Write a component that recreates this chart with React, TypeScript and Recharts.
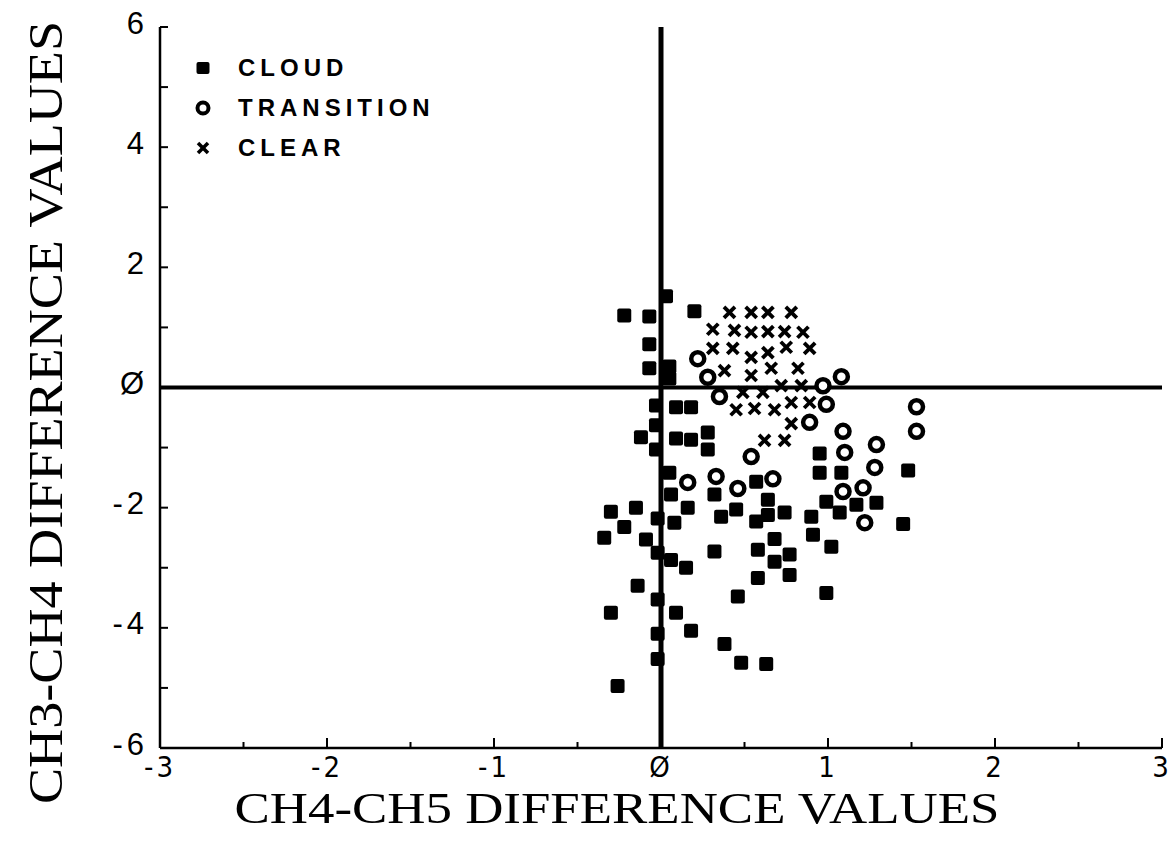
import React from "react"
import {
  ScatterChart,
  Scatter,
  XAxis,
  YAxis,
  ReferenceLine,
  Legend,
  Label,
} from "recharts"

// [CH4-CH5, CH3-CH4] pairs
const cloudPoints: [number, number][] = [
  [0.03, 1.52], [-0.22, 1.2], [-0.07, 1.18], [0.2, 1.27], [-0.07, 0.72],
  [-0.07, 0.32], [0.05, 0.35], [0.05, 0.15], [-0.03, -0.3], [0.09, -0.33],
  [0.18, -0.33], [-0.03, -0.63], [0.28, -0.75], [-0.12, -0.83], [-0.03, -1.03],
  [0.09, -0.85], [0.18, -0.87], [0.28, -1.03], [0.95, -1.1], [0.05, -1.42],
  [0.95, -1.42], [1.08, -1.42], [0.32, -1.78], [0.06, -1.78], [0.57, -1.57],
  [0.64, -1.87], [0.99, -1.9], [1.17, -1.95], [1.29, -1.92], [-0.3, -2.07],
  [-0.15, -2.0], [0.16, -2.0], [0.45, -2.03], [0.36, -2.15], [0.64, -2.12],
  [0.74, -2.08], [1.07, -2.08], [0.9, -2.15], [-0.02, -2.18], [0.08, -2.25],
  [0.57, -2.23], [-0.22, -2.32], [-0.34, -2.5], [-0.09, -2.53], [0.91, -2.45],
  [0.68, -2.52], [1.02, -2.65], [0.32, -2.73], [0.58, -2.7], [0.77, -2.78],
  [-0.02, -2.75], [0.06, -2.87], [0.68, -2.9], [0.15, -3.0], [0.58, -3.17],
  [0.77, -3.12], [-0.14, -3.3], [0.46, -3.48], [0.99, -3.42], [-0.02, -3.53],
  [-0.3, -3.75], [0.09, -3.75], [0.18, -4.05], [-0.02, -4.1], [0.38, -4.27],
  [-0.02, -4.52], [0.48, -4.58], [0.63, -4.6], [-0.26, -4.97], [1.48, -1.38],
  [1.45, -2.27],
]

const transitionPoints: [number, number][] = [
  [0.22, 0.48], [0.28, 0.17], [0.35, -0.15], [1.08, 0.18], [0.99, -0.28],
  [0.97, 0.03], [0.89, -0.58], [1.09, -0.73], [1.29, -0.95], [1.1, -1.08],
  [0.54, -1.15], [1.53, -0.32], [1.53, -0.73], [1.28, -1.33], [0.16, -1.58],
  [0.33, -1.48], [0.46, -1.68], [0.67, -1.52], [1.09, -1.73], [1.21, -1.67],
  [1.22, -2.25],
]

const clearPoints: [number, number][] = [
  [0.41, 1.25], [0.54, 1.25], [0.64, 1.25], [0.78, 1.25],
  [0.31, 0.97], [0.44, 0.95], [0.54, 0.92], [0.64, 0.93], [0.74, 0.93], [0.85, 0.92],
  [0.31, 0.65], [0.43, 0.65], [0.54, 0.5], [0.64, 0.58], [0.75, 0.67], [0.89, 0.65],
  [0.38, 0.28], [0.54, 0.2], [0.66, 0.32], [0.82, 0.32],
  [0.72, 0.03], [0.84, 0.03], [0.49, -0.08], [0.61, -0.08],
  [0.78, -0.25], [0.89, -0.25], [0.45, -0.37], [0.56, -0.35], [0.68, -0.37],
  [0.78, -0.6], [0.62, -0.88], [0.74, -0.88],
]

const xTicks = [-3, -2.5, -2, -1.5, -1, -0.5, 0, 0.5, 1, 1.5, 2, 2.5, 3]
const yTicks = [-6, -5, -4, -3, -2, -1, 0, 1, 2, 3, 4, 5, 6]
const yLabelTicks = [-6, -4, -2, 0, 2, 4, 6]

const legendItems = [
  { name: "CLOUD", kind: "square" },
  { name: "TRANSITION", kind: "circle" },
  { name: "CLEAR", kind: "cross" },
]

const toRows = (pts: [number, number][]) => pts.map(([x, y]) => ({ x, y }))

const fmt = (v: number) => (v === 0 ? "Ø" : String(v))

const INK = "#000"

const SquareShape = (props: any) => {
  const { cx, cy } = props
  return <rect x={cx - 7} y={cy - 7} width={14} height={14} rx={2} fill={INK} />
}

const CircleShape = (props: any) => {
  const { cx, cy } = props
  return <circle cx={cx} cy={cy} r={6.5} fill="#fff" stroke={INK} strokeWidth={4.5} />
}

const CrossShape = (props: any) => {
  const { cx, cy } = props
  const d = 5.5
  return (
    <g stroke={INK} strokeWidth={3.8} strokeLinecap="butt">
      <line x1={cx - d} y1={cy - d} x2={cx + d} y2={cy + d} />
      <line x1={cx - d} y1={cy + d} x2={cx + d} y2={cy - d} />
    </g>
  )
}

const BottomTick = ({ x, y, payload }: any) => {
  const v = payload.value
  const major = Number.isInteger(v)
  return (
    <g>
      <line x1={x} y1={y} x2={x} y2={y - (major ? 10 : 6)} stroke={INK} strokeWidth={2} />
      {major && (
        <text
          x={x}
          y={y + 29}
          textAnchor="middle"
          fontFamily="'Liberation Sans Narrow', 'DejaVu Sans Condensed', sans-serif"
          fontSize={29}
          letterSpacing={3}
          fill={INK}
        >
          {fmt(v)}
        </text>
      )}
    </g>
  )
}

const TopTick = ({ x, y, payload }: any) => {
  const major = Number.isInteger(payload.value)
  return <line x1={x} y1={y} x2={x} y2={y + (major ? 10 : 6)} stroke={INK} strokeWidth={2} />
}

const LeftTick = ({ x, y, payload }: any) => {
  const v = payload.value
  return (
    <g>
      <line x1={x} y1={y} x2={x + 8} y2={y} stroke={INK} strokeWidth={2} />
      {yLabelTicks.includes(v) && (
        <text
          x={x - 12}
          y={y - 4}
          textAnchor="end"
          dominantBaseline="central"
          fontFamily="'Liberation Sans', Arial, sans-serif"
          fontSize={31}
          letterSpacing={4}
          fill={INK}
        >
          {fmt(v)}
        </text>
      )}
    </g>
  )
}

const RightTick = ({ x, y }: any) => (
  <line x1={x} y1={y} x2={x - 8} y2={y} stroke={INK} strokeWidth={2} />
)

const titleFont = "'Liberation Serif', 'DejaVu Serif', serif"

const XTitle = ({ viewBox }: any) => {
  const { x, y, width } = viewBox
  return (
    <text
      x={x + width / 2 - 44}
      y={y + 75}
      textAnchor="middle"
      fontFamily={titleFont}
      fontSize={45}
      textLength={765}
      lengthAdjust="spacingAndGlyphs"
      fill={INK}
    >
      CH4-CH5 DIFFERENCE VALUES
    </text>
  )
}

const YTitle = ({ viewBox }: any) => {
  const { y, height } = viewBox
  const cx = 62
  const cy = y + height / 2 + 25
  return (
    <text
      x={cx}
      y={cy}
      transform={`rotate(-90 ${cx} ${cy})`}
      textAnchor="middle"
      fontFamily={titleFont}
      fontSize={48}
      textLength={783}
      lengthAdjust="spacingAndGlyphs"
      fill={INK}
    >
      CH3-CH4 DIFFERENCE VALUES
    </text>
  )
}

const LegendIcon = ({ kind }: { kind: string }) => (
  <svg width={16} height={16} style={{ display: "block" }}>
    {kind === "square" && <rect x={1.5} y={2} width={13} height={12} rx={2} fill={INK} />}
    {kind === "circle" && <circle cx={8} cy={8} r={5.5} fill="#fff" stroke={INK} strokeWidth={4} />}
    {kind === "cross" && (
      <g stroke={INK} strokeWidth={3.5}>
        <line x1={3} y1={3} x2={13} y2={13} />
        <line x1={3} y1={13} x2={13} y2={3} />
      </g>
    )}
  </svg>
)

const LegendBox = () => (
  <div
    style={{
      fontFamily: "'Liberation Sans', Arial, sans-serif",
      fontWeight: 700,
      fontSize: 24,
      letterSpacing: 5,
      color: INK,
    }}
  >
    {legendItems.map((it) => (
      <div key={it.name} style={{ display: "flex", alignItems: "center", height: 40 }}>
        <LegendIcon kind={it.kind} />
        <span style={{ marginLeft: 27, lineHeight: "24px" }}>{it.name}</span>
      </div>
    ))}
  </div>
)

export default function App() {
  return (
    <div style={{ position: "absolute", left: 0, top: 0, width: 1175, height: 842, background: "#fff" }}>
      <ScatterChart
        width={1175}
        height={842}
        margin={{ top: 27, right: 13, bottom: 34, left: 100 }}
      >
        <XAxis
          type="number"
          dataKey="x"
          domain={[-3, 3]}
          ticks={xTicks}
          interval={0}
          height={60}
          tickSize={0}
          tickMargin={0}
          tickLine={false}
          tick={<BottomTick />}
          axisLine={{ stroke: INK, strokeWidth: 2.5 }}
        >
          <Label content={<XTitle />} />
        </XAxis>
        <XAxis
          xAxisId="top"
          orientation="top"
          type="number"
          dataKey="x"
          domain={[-3, 3]}
          ticks={xTicks}
          interval={0}
          height={0}
          tickSize={0}
          tickMargin={0}
          tickLine={false}
          tick={<TopTick />}
          axisLine={{ stroke: INK, strokeWidth: 2.5 }}
        />
        <YAxis
          type="number"
          dataKey="y"
          domain={[-6, 6]}
          ticks={yTicks}
          interval={0}
          width={60}
          tickSize={0}
          tickMargin={0}
          tickLine={false}
          tick={<LeftTick />}
          axisLine={{ stroke: INK, strokeWidth: 2.5 }}
        >
          <Label content={<YTitle />} />
        </YAxis>
        <YAxis
          yAxisId="right"
          orientation="right"
          type="number"
          dataKey="y"
          domain={[-6, 6]}
          ticks={yTicks}
          interval={0}
          width={0}
          tickSize={0}
          tickMargin={0}
          tickLine={false}
          tick={<RightTick />}
          axisLine={{ stroke: INK, strokeWidth: 2.5 }}
        />
        <ReferenceLine x={0} stroke={INK} strokeWidth={5} />
        <ReferenceLine y={0} stroke={INK} strokeWidth={4} />
        <Legend
          layout="vertical"
          align="center"
          verticalAlign="middle"
          content={<LegendBox />}
          wrapperStyle={{ top: 48, left: 195, width: "auto" }}
        />
        <Scatter name="CLOUD" data={toRows(cloudPoints)} shape={SquareShape} isAnimationActive={false} />
        <Scatter name="TRANSITION" data={toRows(transitionPoints)} shape={CircleShape} isAnimationActive={false} />
        <Scatter name="CLEAR" data={toRows(clearPoints)} shape={CrossShape} isAnimationActive={false} />
      </ScatterChart>
    </div>
  )
}
